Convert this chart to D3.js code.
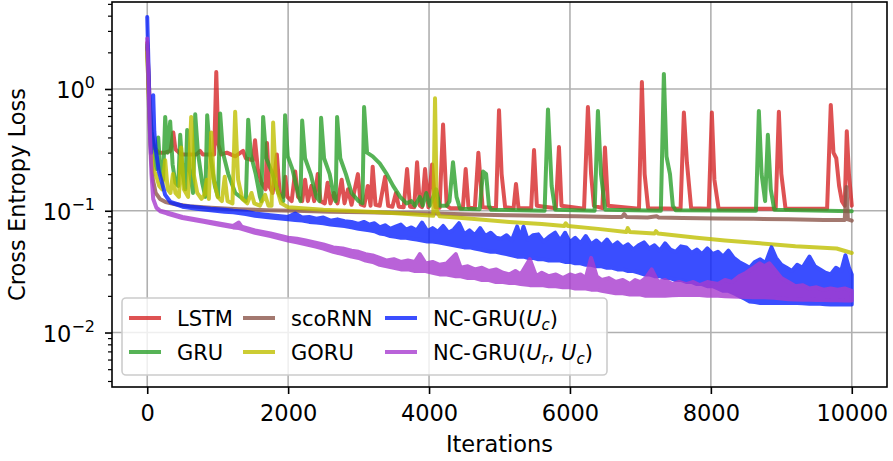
<!DOCTYPE html>
<html>
<head>
<meta charset="utf-8">
<script src="https://cdn.jsdelivr.net/npm/d3@7"></script>
<style>
    body { margin: 0; background: #fff; }
    svg text { font-family: "DejaVu Sans", sans-serif; fill: #000; }
</style>
</head>
<body>
<div id="chart"></div>
<script>
// Training loss curves: [iteration, loss]
const lstmLoss = [
    [0, 2.4], [30, 0.9], [60, 0.45], [100, 0.33], [160, 0.3], [250, 0.3], [330, 0.31], [370, 0.44], [400, 0.32],
    [480, 0.29], [700, 0.29], [750, 0.31], [790, 0.29], [950, 0.29], [980, 1.38], [1010, 0.35], [1050, 0.29],
    [1130, 0.3], [1250, 0.28], [1360, 0.31], [1400, 0.27], [1500, 0.26], [1530, 0.38], [1570, 0.22], [1620, 0.17],
    [1680, 0.15], [1700, 0.36], [1730, 0.16], [1780, 0.14], [1840, 0.29], [1880, 0.14], [1930, 0.13], [1960, 0.19],
    [1990, 0.13], [2050, 0.12], [2100, 0.21], [2140, 0.13], [2200, 0.12], [2240, 0.18], [2280, 0.12], [2330, 0.16],
    [2370, 0.12], [2420, 0.2], [2460, 0.12], [2520, 0.115], [2560, 0.17], [2600, 0.115], [2650, 0.14], [2700, 0.115],
    [2760, 0.18], [2800, 0.115], [2850, 0.15], [2900, 0.112], [2990, 0.2], [3030, 0.113], [3080, 0.11], [3130, 0.16],
    [3170, 0.11], [3200, 0.23], [3240, 0.112], [3300, 0.11], [3376, 0.19], [3420, 0.11], [3480, 0.108], [3530, 0.14],
    [3570, 0.108], [3640, 0.107], [3688, 0.22], [3730, 0.108], [3790, 0.107], [3830, 0.25], [3870, 0.11], [3900, 0.107],
    [3943, 0.22], [3990, 0.107], [4043, 0.24], [4090, 0.107], [4150, 0.106], [4199, 0.51], [4250, 0.11], [4300, 0.105],
    [4480, 0.105], [4520, 0.22], [4560, 0.106], [4650, 0.105], [4700, 0.3], [4760, 0.107], [4950, 0.105], [4993, 0.67],
    [5030, 0.2], [5080, 0.107], [5200, 0.105], [5234, 0.166], [5270, 0.105], [5450, 0.105], [5490, 0.315], [5530, 0.11],
    [5800, 0.105], [5844, 0.334], [5880, 0.11], [6200, 0.104], [6255, 0.71], [6300, 0.2], [6340, 0.11], [6460, 0.105],
    [6497, 0.33], [6540, 0.11], [6980, 0.104], [7021, 1.14], [7060, 0.2], [7110, 0.105], [7570, 0.104], [7617, 0.64],
    [7660, 0.25], [7720, 0.105], [7970, 0.104], [8014, 0.64], [8050, 0.18], [8110, 0.104], [8920, 0.104], [8965, 0.65],
    [9000, 0.2], [9060, 0.104], [9650, 0.104], [9702, 0.74], [9740, 0.3], [9780, 0.27], [9820, 0.16], [9860, 0.12],
    [9900, 0.11], [9929, 0.45], [9960, 0.2], [10000, 0.11]
];

const gruLoss = [
    [0, 2.3], [25, 0.9], [60, 0.45], [100, 0.3], [130, 0.22], [156, 0.4], [185, 0.22], [225, 0.18], [255, 0.59],
    [290, 0.3], [326, 0.54], [360, 0.24], [400, 0.17], [440, 0.16], [468, 0.42], [505, 0.2], [540, 0.15], [567, 0.46],
    [600, 0.22], [650, 0.14], [681, 0.62], [720, 0.3], [780, 0.17], [825, 0.13], [851, 0.61], [890, 0.3], [960, 0.16],
    [1005, 0.13], [1035, 0.63], [1075, 0.3], [1150, 0.2], [1250, 0.14], [1400, 0.12], [1433, 0.56], [1470, 0.29],
    [1540, 0.2], [1600, 0.13], [1620, 0.12], [1645, 0.59], [1690, 0.27], [1780, 0.2], [1860, 0.14], [1930, 0.12],
    [1957, 0.61], [1995, 0.28], [2060, 0.22], [2140, 0.14], [2175, 0.12], [2199, 0.55], [2240, 0.27], [2320, 0.2],
    [2400, 0.13], [2445, 0.12], [2468, 0.58], [2510, 0.27], [2590, 0.2], [2650, 0.13], [2675, 0.12], [2695, 0.59],
    [2740, 0.27], [2820, 0.2], [2900, 0.14], [3000, 0.12], [3055, 0.115], [3078, 0.71], [3120, 0.3], [3200, 0.28],
    [3300, 0.245], [3400, 0.2], [3490, 0.16], [3590, 0.13], [3680, 0.115], [3750, 0.12], [3800, 0.11], [3870, 0.13],
    [3910, 0.11], [3960, 0.14], [4010, 0.11], [4100, 0.15], [4150, 0.11], [4250, 0.11], [4290, 0.12], [4340, 0.25],
    [4390, 0.13], [4440, 0.104], [4720, 0.103], [4766, 0.21], [4810, 0.2], [4850, 0.11], [4880, 0.102], [5640, 0.1],
    [5688, 0.68], [5740, 0.16], [5790, 0.102], [6350, 0.1], [6397, 0.66], [6440, 0.2], [6500, 0.102], [7290, 0.1],
    [7333, 1.33], [7370, 0.28], [7420, 0.2], [7460, 0.11], [7500, 0.101], [8640, 0.1], [8681, 0.66], [8720, 0.2],
    [8770, 0.12], [8809, 0.42], [8850, 0.15], [8900, 0.102], [10000, 0.099]
];

const scornnLoss = [
    [0, 2.2], [25, 0.7], [50, 0.3], [80, 0.18], [120, 0.14], [180, 0.125], [260, 0.118], [400, 0.113], [600, 0.109],
    [900, 0.106], [1300, 0.103], [1700, 0.101], [2100, 0.1], [2600, 0.098], [3100, 0.097], [3600, 0.096], [4100, 0.095],
    [4600, 0.093], [5100, 0.092], [5600, 0.091], [6100, 0.09], [6600, 0.089], [6740, 0.089], [6770, 0.094], [6800, 0.089],
    [7100, 0.088], [7230, 0.09], [7260, 0.088], [7600, 0.087], [8100, 0.0865], [8600, 0.086], [9100, 0.085], [9600, 0.084],
    [9900, 0.084], [9925, 0.157], [9945, 0.085], [10000, 0.083]
];

const goruLoss = [
    [0, 2.0], [25, 0.8], [50, 0.35], [80, 0.22], [120, 0.2], [170, 0.16], [210, 0.15], [255, 0.26], [290, 0.15],
    [330, 0.14], [365, 0.2], [400, 0.14], [450, 0.13], [482, 0.33], [520, 0.15], [580, 0.13], [624, 0.59], [660, 0.2],
    [710, 0.14], [770, 0.125], [810, 0.135], [845, 0.18], [875, 0.125], [908, 0.44], [945, 0.18], [1000, 0.13],
    [1060, 0.12], [1100, 0.19], [1140, 0.12], [1210, 0.115], [1248, 0.65], [1290, 0.18], [1350, 0.125], [1420, 0.115],
    [1480, 0.14], [1520, 0.115], [1600, 0.11], [1674, 0.135], [1720, 0.11], [1765, 0.11], [1787, 0.53], [1830, 0.16],
    [1900, 0.115], [2000, 0.107], [2500, 0.102], [3000, 0.099], [3300, 0.097], [3700, 0.094], [4060, 0.091], [4085, 0.84],
    [4110, 0.1], [4150, 0.09], [4600, 0.086], [5140, 0.081], [5600, 0.078], [5920, 0.075], [5940, 0.079], [5970, 0.075],
    [6400, 0.071], [6800, 0.067], [6820, 0.072], [6850, 0.067], [7200, 0.065], [7220, 0.068], [7250, 0.065], [7800, 0.06],
    [8200, 0.057], [8700, 0.054], [9200, 0.051], [9785, 0.049], [10000, 0.045]
];

// noisy runs: [iteration, lower edge, upper edge] of the band the jittery line fills
const ncGruUcLoss = [
    [0, 3.9, 3.9], [20, 1.4, 1.4], [40, 0.5, 0.5], [55, 0.3, 0.3], [70, 0.5, 0.5], [85, 0.89, 0.89], [100, 0.45, 0.45],
    [120, 0.32, 0.32], [140, 0.27, 0.27], [165, 0.21, 0.21], [210, 0.17, 0.17], [255, 0.135, 0.135], [330, 0.117, 0.118],
    [500, 0.108, 0.11], [700, 0.104, 0.107], [900, 0.101, 0.104], [1100, 0.098, 0.102], [1220, 0.097, 0.1],
    [1400, 0.094, 0.098], [1530, 0.091, 0.095], [1750, 0.088, 0.092], [2000, 0.085, 0.089], [2100, 0.084, 0.095],
    [2200, 0.083, 0.088], [2300, 0.081, 0.089], [2400, 0.08, 0.086], [2500, 0.079, 0.088], [2600, 0.077, 0.083],
    [2700, 0.076, 0.085], [2800, 0.075, 0.082], [2900, 0.073, 0.081], [3000, 0.071, 0.078], [3075, 0.07, 0.081],
    [3150, 0.069, 0.077], [3225, 0.068, 0.079], [3300, 0.065, 0.073], [3375, 0.064, 0.076], [3450, 0.062, 0.071],
    [3525, 0.061, 0.074], [3600, 0.06, 0.077], [3675, 0.06, 0.07], [3750, 0.059, 0.073], [3825, 0.058, 0.069],
    [3900, 0.057, 0.08], [3975, 0.056, 0.068], [4050, 0.056, 0.072], [4125, 0.055, 0.067], [4200, 0.054, 0.075],
    [4275, 0.053, 0.066], [4350, 0.052, 0.07], [4425, 0.051, 0.079], [4500, 0.05, 0.064], [4575, 0.05, 0.069],
    [4650, 0.049, 0.063], [4725, 0.048, 0.072], [4800, 0.047, 0.062], [4875, 0.046, 0.066], [4950, 0.046, 0.06],
    [5025, 0.045, 0.059], [5100, 0.044, 0.063], [5175, 0.043, 0.057], [5250, 0.042, 0.074], [5300, 0.042, 0.06],
    [5340, 0.042, 0.074], [5400, 0.041, 0.058], [5475, 0.041, 0.063], [5550, 0.04, 0.064], [5625, 0.04, 0.056],
    [5700, 0.039, 0.061], [5790, 0.039, 0.066], [5860, 0.039, 0.057], [5930, 0.038, 0.066], [6000, 0.038, 0.055],
    [6075, 0.037, 0.06], [6150, 0.037, 0.054], [6225, 0.036, 0.062], [6300, 0.036, 0.053], [6375, 0.035, 0.057],
    [6450, 0.035, 0.052], [6525, 0.034, 0.058], [6600, 0.034, 0.051], [6675, 0.033, 0.055], [6750, 0.033, 0.05],
    [6825, 0.032, 0.053], [6900, 0.032, 0.048], [6975, 0.031, 0.052], [7050, 0.03, 0.055], [7125, 0.03, 0.049],
    [7200, 0.029, 0.052], [7275, 0.029, 0.047], [7350, 0.028, 0.054], [7425, 0.028, 0.048], [7500, 0.027, 0.046],
    [7575, 0.027, 0.051], [7650, 0.026, 0.05], [7725, 0.026, 0.045], [7800, 0.025, 0.048], [7875, 0.025, 0.044],
    [7950, 0.024, 0.049], [8025, 0.024, 0.044], [8100, 0.023, 0.046], [8175, 0.022, 0.042], [8250, 0.022, 0.047],
    [8325, 0.021, 0.041], [8400, 0.02, 0.038], [8475, 0.019, 0.036], [8550, 0.018, 0.034], [8625, 0.0178, 0.038],
    [8700, 0.0175, 0.04], [8775, 0.0175, 0.037], [8860, 0.0175, 0.05], [8925, 0.0175, 0.041], [9000, 0.0175, 0.036],
    [9075, 0.0175, 0.034], [9150, 0.0175, 0.032], [9225, 0.0175, 0.036], [9300, 0.0174, 0.034], [9400, 0.0172, 0.042],
    [9475, 0.0172, 0.035], [9550, 0.0172, 0.033], [9625, 0.0171, 0.031], [9700, 0.017, 0.03], [9775, 0.017, 0.034],
    [9850, 0.017, 0.032], [9910, 0.017, 0.043], [9960, 0.017, 0.034], [10000, 0.017, 0.03]
];

const ncGruUrUcLoss = [
    [0, 2.6, 2.6], [20, 1.1, 1.1], [40, 0.4, 0.4], [60, 0.2, 0.2], [85, 0.125, 0.125], [130, 0.106, 0.106],
    [185, 0.099, 0.1], [280, 0.095, 0.097], [500, 0.087, 0.089], [800, 0.081, 0.083], [1000, 0.077, 0.079],
    [1220, 0.073, 0.075], [1300, 0.072, 0.08], [1340, 0.071, 0.074], [1530, 0.066, 0.069], [1750, 0.062, 0.065],
    [2000, 0.057, 0.06], [2125, 0.055, 0.059], [2250, 0.053, 0.057], [2375, 0.051, 0.055], [2500, 0.049, 0.053],
    [2640, 0.046, 0.05], [2775, 0.044, 0.049], [2900, 0.042, 0.047], [3000, 0.041, 0.046], [3100, 0.039, 0.044],
    [3200, 0.038, 0.043], [3300, 0.036, 0.041], [3400, 0.035, 0.039], [3500, 0.034, 0.04], [3600, 0.033, 0.038],
    [3700, 0.033, 0.039], [3800, 0.032, 0.038], [3870, 0.032, 0.044], [3950, 0.032, 0.037], [4050, 0.031, 0.038],
    [4150, 0.03, 0.036], [4250, 0.03, 0.037], [4380, 0.029, 0.044], [4450, 0.029, 0.034], [4550, 0.028, 0.035],
    [4650, 0.028, 0.033], [4750, 0.027, 0.034], [4850, 0.027, 0.032], [4950, 0.026, 0.033], [5050, 0.026, 0.031],
    [5140, 0.0255, 0.03], [5225, 0.0255, 0.032], [5300, 0.025, 0.03], [5430, 0.0245, 0.04], [5520, 0.0245, 0.029],
    [5600, 0.0245, 0.031], [5700, 0.024, 0.029], [5800, 0.024, 0.03], [5900, 0.0235, 0.028], [6000, 0.0235, 0.03],
    [6075, 0.023, 0.029], [6150, 0.023, 0.03], [6225, 0.023, 0.028], [6300, 0.0225, 0.041], [6380, 0.0225, 0.029],
    [6450, 0.022, 0.027], [6550, 0.0215, 0.028], [6650, 0.021, 0.026], [6750, 0.021, 0.027], [6850, 0.0205, 0.025],
    [6925, 0.0205, 0.027], [7000, 0.0205, 0.026], [7075, 0.02, 0.028], [7160, 0.02, 0.033], [7250, 0.02, 0.026],
    [7350, 0.02, 0.027], [7450, 0.0202, 0.025], [7550, 0.0203, 0.026], [7650, 0.0203, 0.025], [7750, 0.0203, 0.026],
    [7840, 0.0203, 0.0245], [7950, 0.02, 0.026], [8100, 0.02, 0.025], [8200, 0.0199, 0.027], [8300, 0.0198, 0.026],
    [8400, 0.0197, 0.029], [8500, 0.0196, 0.031], [8600, 0.0195, 0.034], [8690, 0.0195, 0.037], [8760, 0.0195, 0.035],
    [8830, 0.0194, 0.037], [8900, 0.0193, 0.033], [9000, 0.019, 0.028], [9100, 0.0188, 0.026], [9200, 0.0187, 0.024],
    [9300, 0.0186, 0.0245], [9400, 0.0186, 0.023], [9500, 0.0185, 0.0235], [9600, 0.0185, 0.0225], [9700, 0.0184, 0.023],
    [9800, 0.0184, 0.0225], [9900, 0.0183, 0.023], [10000, 0.0183, 0.022]
];

const iterTicks = [0, 2000, 4000, 6000, 8000, 10000];
const lossTicks = [0.01, 0.1, 1];
const lossTickExponents = ["\u22122", "\u22121", "0"];
const minorLossTicks = [0.004, 0.005, 0.006, 0.007, 0.008, 0.009, 0.02, 0.03, 0.04, 0.05, 0.06, 0.07, 0.08, 0.09,
    0.2, 0.3, 0.4, 0.5, 0.6, 0.7, 0.8, 0.9, 2, 3, 4, 5];

const series = [
    { key: "LSTM", data: lstmLoss, color: "#d62728", band: false, label: [["LSTM"]] },
    { key: "GRU", data: gruLoss, color: "#2ca02c", band: false, label: [["GRU"]] },
    { key: "scoRNN", data: scornnLoss, color: "#8c564b", band: false, label: [["scoRNN"]] },
    { key: "GORU", data: goruLoss, color: "#bfbf00", band: false, label: [["GORU"]] },
    { key: "NC-GRU(Uc)", data: ncGruUcLoss, color: "#0a22ff", band: true,
      label: [["NC-GRU("], ["U", "i"], ["c", "sub"], [")"]] },
    { key: "NC-GRU(Ur,Uc)", data: ncGruUrUcLoss, color: "#a83ccf", band: true,
      label: [["NC-GRU("], ["U", "i"], ["r", "sub"], [", "], ["U", "i"], ["c", "sub"], [")"]] }
];

const width = 893;
const height = 461;
const margin = { top: 2, right: 6, bottom: 74, left: 112 };
const axisFont = 22.5;
const legendFont = 21;

const x = d3.scaleLinear().domain([-500, 10500]).range([margin.left, width - margin.right]);
const y = d3.scaleLog().domain([0.00357, 5.18]).range([height - margin.bottom, margin.top]);

const svg = d3.select("#chart").append("svg")
    .attr("width", width)
    .attr("height", height);

svg.append("defs").append("clipPath").attr("id", "plot-clip")
    .append("rect")
    .attr("x", margin.left).attr("y", margin.top)
    .attr("width", width - margin.left - margin.right)
    .attr("height", height - margin.top - margin.bottom);

// grid
const grid = svg.append("g").attr("stroke", "#b0b0b0").attr("stroke-width", 1.6);
grid.selectAll(".gx").data(iterTicks).join("line")
    .attr("x1", d => x(d)).attr("x2", d => x(d))
    .attr("y1", margin.top).attr("y2", height - margin.bottom);
grid.selectAll(".gy").data(lossTicks).join("line")
    .attr("x1", margin.left).attr("x2", width - margin.right)
    .attr("y1", d => y(d)).attr("y2", d => y(d));

// curves
const line = d3.line().x(d => x(d[0])).y(d => y(d[1]));
const band = d3.area().x(d => x(d[0])).y0(d => y(d[1])).y1(d => y(d[2]));

const plot = svg.append("g").attr("clip-path", "url(#plot-clip)");
series.forEach(s => {
    plot.append("g")
        .attr("opacity", 0.8)
        .append("path")
        .attr("d", s.band ? band(s.data) : line(s.data))
        .attr("fill", s.band ? s.color : "none")
        .attr("stroke", s.color)
        .attr("stroke-width", 4)
        .attr("stroke-linejoin", "round")
        .attr("stroke-linecap", "round");
});

// axes
const xAxis = svg.append("g")
    .attr("transform", `translate(0,${height - margin.bottom})`)
    .call(d3.axisBottom(x).tickValues(iterTicks).tickSize(7).tickPadding(11).tickFormat(d3.format("d")));
xAxis.select(".domain").remove();
xAxis.selectAll("line").attr("stroke", "#000").attr("stroke-width", 1.6);
xAxis.selectAll("text").attr("font-size", axisFont).attr("font-family", "DejaVu Sans");

const yMinor = svg.append("g")
    .attr("transform", `translate(${margin.left},0)`)
    .call(d3.axisLeft(y).tickValues(minorLossTicks).tickSize(4).tickFormat(""));
yMinor.select(".domain").remove();
yMinor.selectAll("line").attr("stroke", "#000").attr("stroke-width", 1.2);

const yMajor = svg.append("g")
    .attr("transform", `translate(${margin.left},0)`)
    .call(d3.axisLeft(y).tickValues(lossTicks).tickSize(7).tickFormat(""));
yMajor.select(".domain").remove();
yMajor.selectAll("line").attr("stroke", "#000").attr("stroke-width", 1.6);

const yLabels = svg.append("g").selectAll("text").data(lossTicks).join("text")
    .attr("x", margin.left - 17)
    .attr("y", d => y(d) + 9)
    .attr("text-anchor", "end")
    .attr("font-size", axisFont);
yLabels.append("tspan").text("10");
yLabels.append("tspan")
    .attr("dy", -10)
    .attr("font-size", 16)
    .text((d, i) => lossTickExponents[i]);

// spines
svg.append("rect")
    .attr("x", margin.left).attr("y", margin.top)
    .attr("width", width - margin.left - margin.right)
    .attr("height", height - margin.top - margin.bottom)
    .attr("fill", "none")
    .attr("stroke", "#000")
    .attr("stroke-width", 1.6);

svg.append("text")
    .attr("x", (margin.left + width - margin.right) / 2)
    .attr("y", 452)
    .attr("text-anchor", "middle")
    .attr("font-size", axisFont)
    .text("Iterations");

svg.append("text")
    .attr("transform", `translate(25,${(margin.top + height - margin.bottom) / 2}) rotate(-90)`)
    .attr("text-anchor", "middle")
    .attr("font-size", axisFont)
    .text("Cross Entropy Loss");

// legend, 3 columns x 2 rows, column-major like matplotlib
const legend = svg.append("g");
legend.append("rect")
    .attr("x", 122).attr("y", 298)
    .attr("width", 485).attr("height", 77)
    .attr("rx", 4)
    .attr("fill", "#fff").attr("fill-opacity", 0.8)
    .attr("stroke", "#cccccc").attr("stroke-width", 1.6);

const colX = [129, 243, 385];
const rowY = [318, 352];
const items = legend.selectAll(".item").data(series).join("g")
    .attr("transform", (d, i) => `translate(${colX[Math.floor(i / 2)]},${rowY[i % 2]})`);

items.append("line")
    .attr("x1", 0).attr("x2", 32)
    .attr("stroke", d => d.color)
    .attr("stroke-opacity", 0.8)
    .attr("stroke-width", 4);

items.each(function (d) {
    const t = d3.select(this).append("text")
        .attr("x", 48)
        .attr("y", 7.5)
        .attr("font-size", legendFont);
    d.label.forEach(([str, style], j) => {
        const span = t.append("tspan").text(str);
        if (style === "i") span.attr("font-style", "italic");
        if (style === "sub") span.attr("font-style", "italic").attr("font-size", 15).attr("dy", 4);
        // back to the baseline after a subscript
        if (j > 0 && d.label[j - 1][1] === "sub" && style !== "sub") span.attr("dy", -4);
    });
});
</script>
</body>
</html>
